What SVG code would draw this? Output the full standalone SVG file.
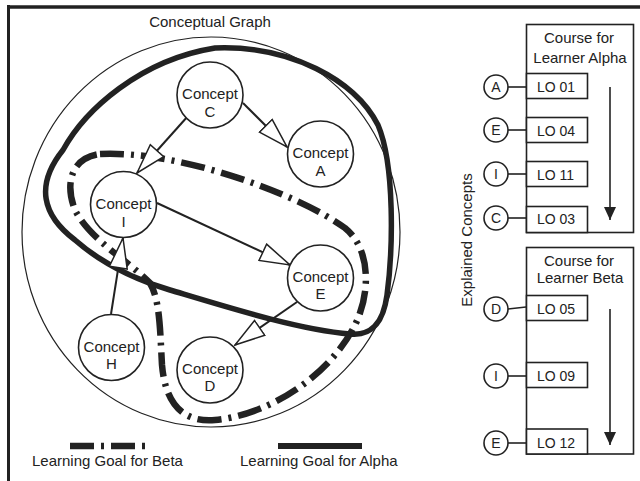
<svg xmlns="http://www.w3.org/2000/svg" width="640" height="481" viewBox="0 0 640 481">
<style>
text{font-family:"Liberation Sans",Arial,sans-serif;fill:#222;}
.t15{font-size:15px;}
.t14{font-size:14px;}
.mid{text-anchor:middle;}
.node{fill:#fff;stroke:#222;stroke-width:1.6;}
.edge{fill:none;stroke:#222;stroke-width:2;marker-end:url(#tri);}
.alpha{fill:none;stroke:#222;stroke-width:5.5;stroke-linejoin:round;}
.beta{fill:none;stroke:#222;stroke-width:6.5;stroke-dasharray:24 7 3 7;}
.box{fill:#fff;stroke:#222;stroke-width:1.6;}
.link{stroke:#222;stroke-width:1.6;}
.down{stroke:#222;stroke-width:1.6;marker-end:url(#solid);}
</style>
<defs>
<marker id="tri" viewBox="0 0 32 20" refX="31" refY="10" markerWidth="32" markerHeight="20" markerUnits="userSpaceOnUse" orient="auto">
<path d="M1,1 L31,10 L1,19 Z" fill="#fff" stroke="#222" stroke-width="1.5"/>
</marker>
<marker id="solid" viewBox="0 0 14 12" refX="13" refY="6" markerWidth="14" markerHeight="12" markerUnits="userSpaceOnUse" orient="auto">
<path d="M0,0 L13,6 L0,12 Z" fill="#222"/>
</marker>
</defs>
<rect width="640" height="481" fill="#fff"/>
<g id="frame">
<line x1="8.5" y1="5" x2="8.5" y2="481" stroke="#222" stroke-width="3"/>
<line x1="7" y1="7" x2="640" y2="7" stroke="#222" stroke-width="3.5"/>
</g>
<g id="conceptual-graph">
<ellipse cx="211" cy="232" rx="189" ry="195" fill="none" stroke="#222" stroke-width="1.2"/>
<text class="t15 mid" x="210" y="27">Conceptual Graph</text>
</g>
<g id="goals">
<path id="alpha-path" class="alpha" d="M215,48 C290,45 355,80 378,125 C395,165 393,250 387,295 C383,325 370,336 350,334 C300,330 230,308 170,290 C130,278 100,262 75,240 C42,215 35,185 63,150 C85,110 140,60 215,48 Z"/>
<path id="beta-path" class="beta" d="M100,154 C180,150 300,195 345,228 C372,250 370,295 355,325 C330,375 270,415 215,420 C180,423 165,400 162,365 C160,330 160,300 150,283 C130,262 90,240 75,210 C65,185 70,158 100,154 Z"/>
</g>
<g id="connectors">
<line class="edge" x1="188" y1="116" x2="137" y2="173"/>
<line class="edge" x1="243" y1="103" x2="287" y2="147"/>
<line class="edge" x1="157" y1="203" x2="290" y2="265"/>
<line class="edge" x1="111" y1="314" x2="123" y2="238"/>
<line class="edge" x1="297" y1="302" x2="235" y2="345"/>
</g>
<g id="concept-C"><circle class="node" cx="210" cy="95" r="33"/><text class="t15 mid" x="210" y="99">Concept</text><text class="t15 mid" x="210" y="117">C</text></g>
<g id="concept-A"><circle class="node" cx="320.5" cy="154" r="33"/><text class="t15 mid" x="320.5" y="158">Concept</text><text class="t15 mid" x="320.5" y="176">A</text></g>
<g id="concept-I"><circle class="node" cx="123.5" cy="204.5" r="33"/><text class="t15 mid" x="123.5" y="208.5">Concept</text><text class="t15 mid" x="123.5" y="227">I</text></g>
<g id="concept-E"><circle class="node" cx="320.5" cy="278" r="33"/><text class="t15 mid" x="320.5" y="282">Concept</text><text class="t15 mid" x="320.5" y="299">E</text></g>
<g id="concept-H"><circle class="node" cx="111.5" cy="347.5" r="33"/><text class="t15 mid" x="111.5" y="351.5">Concept</text><text class="t15 mid" x="111.5" y="369">H</text></g>
<g id="concept-D"><circle class="node" cx="210" cy="370" r="33"/><text class="t15 mid" x="210" y="374">Concept</text><text class="t15 mid" x="210" y="391">D</text></g>
<g id="legend">
<line class="beta" x1="70" y1="446" x2="150" y2="446"/>
<text class="t15" x="32" y="466">Learning Goal for Beta</text>
<line x1="278" y1="446" x2="362" y2="446" stroke="#222" stroke-width="6"/>
<text class="t15" x="240" y="466">Learning Goal for Alpha</text>
</g>
<text class="t15 mid" transform="translate(472,240) rotate(-90)">Explained Concepts</text>
<g id="course-alpha">
<rect class="box" x="526.5" y="24.5" width="107" height="208"/>
<text class="t15 mid" x="579" y="43">Course for</text>
<text class="t15 mid" x="580" y="63">Learner Alpha</text>
<line class="down" x1="610" y1="87" x2="610" y2="220"/>
</g>
<g id="course-beta">
<rect class="box" x="526.5" y="247.5" width="107" height="206.5"/>
<text class="t15 mid" x="579" y="266">Course for</text>
<text class="t15 mid" x="580" y="283">Learner Beta</text>
<line class="down" x1="610" y1="309" x2="610" y2="445"/>
</g>
<g id="lo01"><rect class="box" x="526.5" y="73.5" width="61" height="25"/><text class="t14" x="537" y="92">LO 01</text></g>
<g id="lo04"><rect class="box" x="526.5" y="117.5" width="61" height="25"/><text class="t14" x="537" y="136">LO 04</text></g>
<g id="lo11"><rect class="box" x="526.5" y="161.5" width="61" height="25"/><text class="t14" x="537" y="180">LO 11</text></g>
<g id="lo03"><rect class="box" x="526.5" y="206.5" width="61" height="26"/><text class="t14" x="537" y="224">LO 03</text></g>
<g id="lo05"><rect class="box" x="526.5" y="295.5" width="61" height="25"/><text class="t14" x="537" y="314">LO 05</text></g>
<g id="lo09"><rect class="box" x="526.5" y="362.5" width="61" height="25"/><text class="t14" x="537" y="381">LO 09</text></g>
<g id="lo12"><rect class="box" x="526.5" y="429" width="61" height="25"/><text class="t14" x="537" y="448">LO 12</text></g>
<g id="links">
<line class="link" x1="508" y1="87" x2="526" y2="87"/>
<line class="link" x1="508" y1="130" x2="526" y2="130"/>
<line class="link" x1="508" y1="174" x2="526" y2="174"/>
<line class="link" x1="508" y1="218" x2="526" y2="218"/>
<line class="link" x1="508" y1="309" x2="526" y2="307"/>
<line class="link" x1="508" y1="376" x2="526" y2="376"/>
<line class="link" x1="508" y1="443" x2="526" y2="443"/>
</g>
<g id="ec-A"><circle class="node" cx="496" cy="87" r="12"/><text class="t14 mid" x="496" y="92">A</text></g>
<g id="ec-E1"><circle class="node" cx="496" cy="130" r="12"/><text class="t14 mid" x="496" y="135">E</text></g>
<g id="ec-I1"><circle class="node" cx="496" cy="174" r="12"/><text class="t14 mid" x="496" y="179">I</text></g>
<g id="ec-C"><circle class="node" cx="496" cy="218" r="12"/><text class="t14 mid" x="496" y="223">C</text></g>
<g id="ec-D"><circle class="node" cx="496" cy="309" r="12"/><text class="t14 mid" x="496" y="314">D</text></g>
<g id="ec-I2"><circle class="node" cx="496" cy="376" r="12"/><text class="t14 mid" x="496" y="381">I</text></g>
<g id="ec-E2"><circle class="node" cx="496" cy="443" r="12"/><text class="t14 mid" x="496" y="448">E</text></g>
</svg>
